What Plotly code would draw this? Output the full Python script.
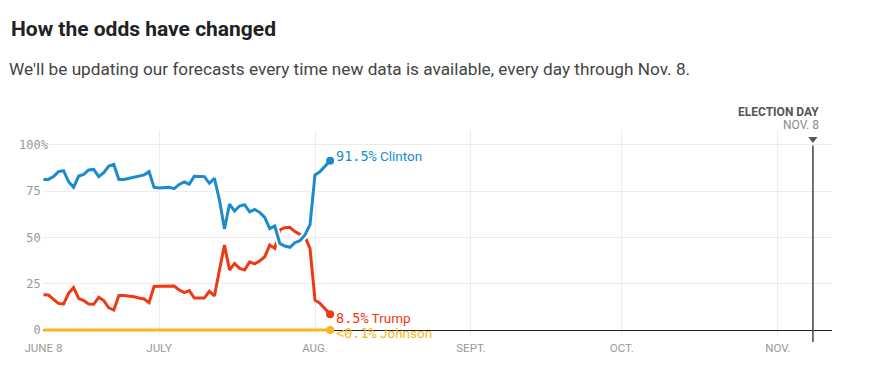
import datetime as dt
import plotly.graph_objects as go

start = dt.date(2016, 6, 8)
clinton = [81.4, 81.4, 82.9, 85.6, 86.1, 80.2, 77.1, 83.2, 84.1, 86.5, 86.8, 82.9, 85.0, 88.6, 89.5,
           81.4, 81.4, 82.0, 82.7, 83.4, 83.8, 85.6, 77.1, 76.8, 76.8, 77.1, 76.4, 78.7, 80.0, 78.9,
           83.1, 83.1, 82.9, 79.3, 82.0, 70.3, 54.6, 68.1, 64.3, 67.0, 67.7, 63.9, 65.2, 63.6, 60.9,
           54.8, 56.2, 46.8, 45.4, 44.7, 47.2, 48.3, 51.4, 56.8, 83.8, 85.6, 88.3, 91.5]
trump = [19.1, 18.9, 16.6, 14.4, 14.0, 19.8, 23.0, 17.1, 15.9, 14.0, 13.9, 17.7, 15.9, 12.0, 10.8,
         18.7, 18.7, 18.4, 18.0, 17.3, 16.8, 14.8, 23.5, 23.6, 23.6, 23.4, 23.8, 21.6, 20.2, 21.3,
         17.3, 17.3, 17.3, 20.9, 18.4, 32.4, 45.9, 32.4, 36.0, 33.3, 32.4, 36.8, 35.7, 37.3, 39.6,
         45.9, 44.1, 54.1, 55.3, 55.5, 53.2, 51.7, 50.5, 44.1, 16.2, 14.4, 11.7, 8.5]
johnson = [0.0] * len(clinton)
dates = [start + dt.timedelta(days=i) for i in range(len(clinton))]

label_values = ["91.5%", "8.5%", "&lt;0.1%"]
label_names = ["Clinton", "Trump", "Johnson"]

x_tick_vals = ["2016-06-08", "2016-07-01", "2016-08-01", "2016-09-01", "2016-10-01", "2016-11-01"]
x_tick_text = ["JUNE 8", "JULY", "AUG.", "SEPT.", "OCT.", "NOV."]
y_tick_vals = [0, 25, 50, 75, 100]
y_tick_text = ["0\u00a0", "25\u00a0", "50\u00a0", "75\u00a0", "100%"]
election_day = "2016-11-08"

BLUE = "#1a8bd0"
RED = "#ee3a14"
YELLOW = "#f5b81c"
MONO = "DejaVu Sans Mono"
SANS = "Roboto"

fig = go.Figure()
fig.add_trace(go.Scatter(x=dates, y=johnson, mode="lines", line=dict(color=YELLOW, width=3), hoverinfo="skip"))
fig.add_trace(go.Scatter(x=dates, y=trump, mode="lines", line=dict(color=RED, width=3), hoverinfo="skip"))
fig.add_trace(go.Scatter(x=dates, y=clinton, mode="lines", line=dict(color="white", width=7), hoverinfo="skip"))
fig.add_trace(go.Scatter(x=dates, y=clinton, mode="lines", line=dict(color=BLUE, width=3), hoverinfo="skip"))

series = [(clinton, BLUE, 5), (trump, RED, -4), (johnson, YELLOW, -3)]
for (vals, col, ys), v, name in zip(series, label_values, label_names):
    fig.add_trace(go.Scatter(x=[dates[-1]], y=[vals[-1]], mode="markers",
                             marker=dict(color=col, size=8), hoverinfo="skip", cliponaxis=False))
    fig.add_annotation(x=dates[-1], y=vals[-1], xref="x", yref="y", xanchor="left", yanchor="middle",
                       xshift=4, yshift=ys, showarrow=False,
                       text=f'<span style="font-family:{MONO}">{v}</span> {name}',
                       font=dict(family=SANS, size=13.5, color=col))

# Election day marker
fig.add_shape(type="line", xref="x", yref="paper", x0=election_day, x1=election_day,
              y0=-0.034, y1=0.925, line=dict(color="#444444", width=1.5))
fig.add_trace(go.Scatter(x=[election_day], y=[103.3], mode="markers",
                         marker=dict(symbol="triangle-down", size=8, color="#555555"),
                         hoverinfo="skip", cliponaxis=False))
fig.add_annotation(x=election_day, y=1.088, xref="x", yref="paper", xanchor="right", yanchor="middle",
                   xshift=8, showarrow=False, text="<b>ELECTION DAY</b>",
                   font=dict(family=SANS, size=12, color="#555555"))
fig.add_annotation(x=election_day, y=1.022, xref="x", yref="paper", xanchor="right", yanchor="middle",
                   xshift=8, showarrow=False, text="NOV. 8",
                   font=dict(family=SANS, size=12, color="#888888"))

fig.add_annotation(x=-0.0456, y=1.2976, xref="paper", yref="paper", xanchor="left", yanchor="middle",
                   showarrow=False,
                   text="We'll be updating our forecasts every time new data is available, every day through Nov. 8.",
                   font=dict(family=SANS, size=17.2, color="#444444"))

fig.update_layout(
    width=870, height=385,
    margin=dict(l=43, r=38, t=130, b=50),
    paper_bgcolor="white", plot_bgcolor="white",
    showlegend=False,
    title=dict(text="<b>How the odds have changed</b>", x=11 / 870, xref="container", xanchor="left",
               y=1 - 29 / 385, yref="container", yanchor="middle",
               font=dict(family=SANS, size=21, color="#222222")),
    xaxis=dict(range=["2016-06-07 22:00", "2016-11-11 19:00"], tickvals=x_tick_vals, ticktext=x_tick_text,
               showgrid=True, gridcolor="#ececec", gridwidth=1, showline=False, zeroline=False,
               ticks="", ticklabelstandoff=4, tickfont=dict(family=SANS, size=11.5, color="#999999")),
    yaxis=dict(range=[-2.7, 108.1], tickvals=y_tick_vals, ticktext=y_tick_text,
               showgrid=True, gridcolor="#ececec", gridwidth=1, showline=False,
               zeroline=True, zerolinecolor="#222222", zerolinewidth=1,
               ticks="", ticklabelstandoff=-6, tickfont=dict(family=MONO, size=12, color="#999999")),
)

fig.write_html("out.html", config={"displayModeBar": False},
               post_script="document.body.style.margin='0';")
